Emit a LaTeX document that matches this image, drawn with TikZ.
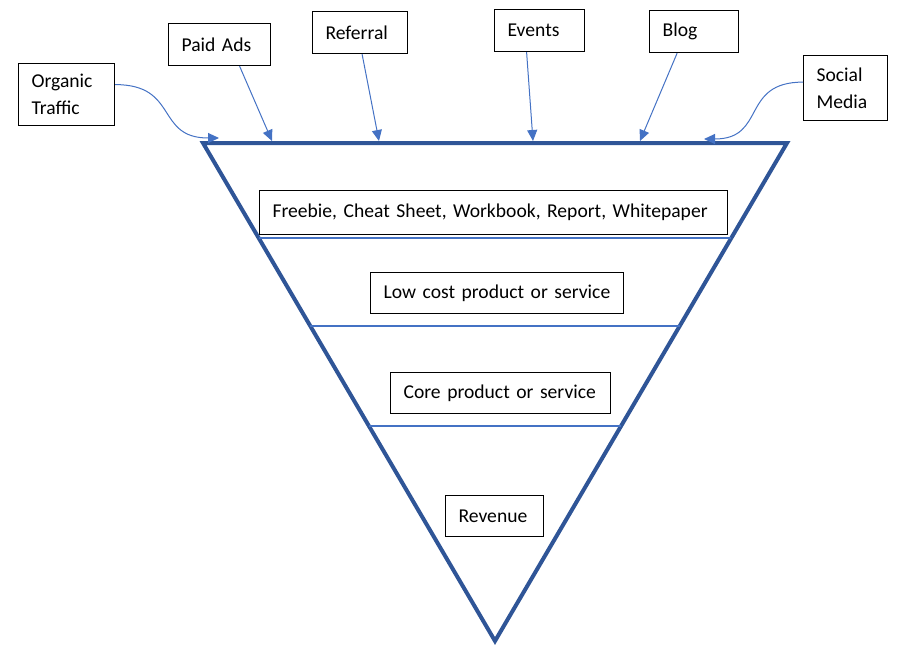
\documentclass[tikz,border=0pt]{standalone}
\usepackage{fontspec}
\setmainfont{Carlito}
\usetikzlibrary{arrows.meta,calc}
\definecolor{funnelblue}{RGB}{47,85,151}
\definecolor{linkblue}{RGB}{68,114,196}
\tikzset{
  box/.style={draw=black, line width=1.2pt, anchor=north west, inner xsep=13pt, inner ysep=0pt,
    align=left, font=\fontsize{19.6}{27}\selectfont},
  src/.style={draw=linkblue, line width=1pt, -{Triangle[length=11pt,width=10pt]}},
  divider/.style={draw=linkblue, line width=1.3pt},
  funnel/.style={draw=funnelblue, line width=4pt, line join=miter}
}
\begin{document}
\begin{tikzpicture}[x=1pt,y=-1pt]
\useasboundingbox (0,0) rectangle (905,646);
% funnel
\coordinate (tl) at (203,143);
\coordinate (tr) at (787,143);
\coordinate (bot) at (495,641);
\draw[funnel] (tl) -- (tr) -- (bot) -- cycle;
% dividers
\coordinate (d1l) at ($(tl)!0.1908!(bot)$);
\coordinate (d1r) at ($(tr)!0.1908!(bot)$);
\coordinate (d2l) at ($(tl)!0.3675!(bot)$);
\coordinate (d2r) at ($(tr)!0.3675!(bot)$);
\coordinate (d3l) at ($(tl)!0.5683!(bot)$);
\coordinate (d3r) at ($(tr)!0.5683!(bot)$);
\draw[divider] (d1l) -- (d1r);
\draw[divider] (d2l) -- (d2r);
\draw[divider] (d3l) -- (d3r);
% stage boxes
\node[box, text width=442pt, minimum height=44pt] (freebie) at (259,190) {\mbox{Freebie, Cheat Sheet, Workbook, Report, Whitepaper}};
\node[box, text width=227pt, minimum height=41pt] (lowcost) at (370,272) {\mbox{Low cost product or service}};
\node[box, text width=194pt, minimum height=41pt] (core) at (390,372) {\mbox{Core product or service}};
\node[box, text width=72pt, minimum height=41pt] (revenue) at (445,495) {\mbox{Revenue}};
% source boxes
\node[box, text width=70pt, minimum height=62pt] (organic) at (18,63) {Organic\\Traffic};
\node[box, text width=76pt, minimum height=42pt] (paid) at (168,23) {\mbox{Paid Ads}};
\node[box, text width=69pt, minimum height=42pt] (referral) at (312,11) {\mbox{Referral}};
\node[box, text width=64pt, minimum height=42pt] (events) at (494,9) {\mbox{Events}};
\node[box, text width=63pt, minimum height=42pt] (blog) at (649,10) {\mbox{Blog}};
\node[box, text width=58pt, minimum height=65pt] (social) at (803,55) {Social\\Media};
% arrow targets on funnel top
\coordinate (tOrg) at (219,138);
\coordinate (tPaid) at (272,141);
\coordinate (tRef) at (379,141);
\coordinate (tEv) at (533,141);
\coordinate (tBlog) at (640,141);
\coordinate (tSoc) at (704,139);
% arrows
\draw[src] ([yshift=10pt]organic.east) to[out=0,in=180,looseness=1.4] (tOrg);
\draw[src] ([xshift=20pt]paid.south) -- (tPaid);
\draw[src] ([xshift=2pt]referral.south) -- (tRef);
\draw[src] ([xshift=-13pt]events.south) -- (tEv);
\draw[src] ([xshift=-17pt]blog.south) -- (tBlog);
\draw[src] ([yshift=6pt]social.west) to[out=180,in=0,looseness=1.4] (tSoc);
\end{tikzpicture}
\end{document}
